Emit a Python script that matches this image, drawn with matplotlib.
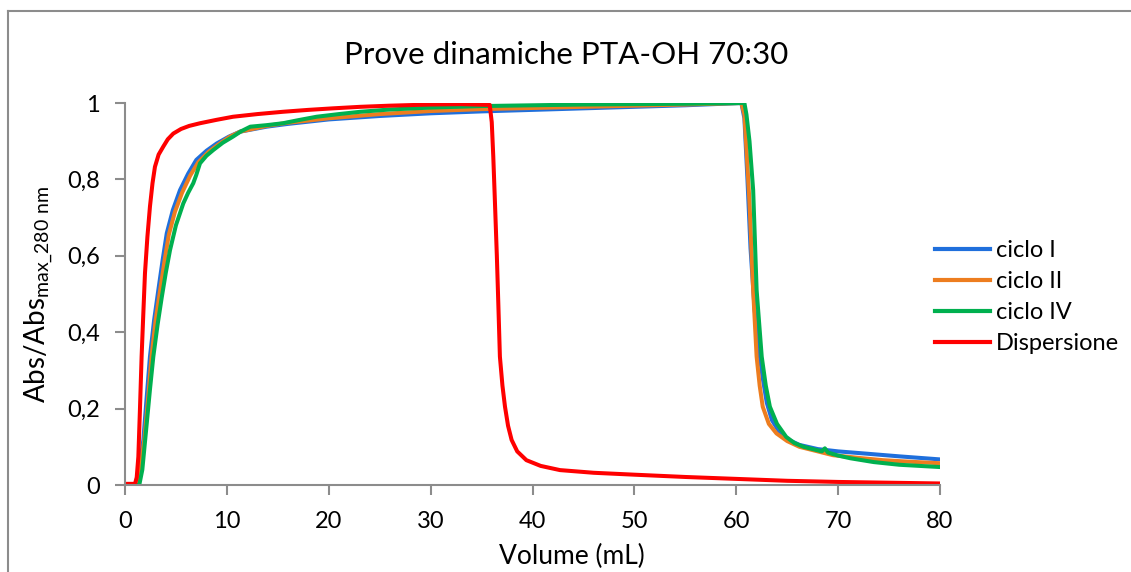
import matplotlib
matplotlib.use("Agg")
import matplotlib.pyplot as plt
from matplotlib.lines import Line2D

plt.rcParams['font.family'] = ['Lato', 'DejaVu Sans']

# ciclo I
vol_c1 = [0, 1.15, 1.4, 1.8, 2.1, 2.45, 2.85, 3.27, 3.7, 4.1, 4.7, 5.4, 6.2, 7.0,
          8.0, 9.0, 10.2, 11.3, 13.9, 15.9, 20, 25, 30, 35, 40, 45, 50, 55, 60.5,
          60.8, 61.1, 61.4, 61.8, 62.2, 62.6, 63.0, 63.5, 64.2, 65.0, 66.2, 68, 70,
          72.8, 76, 80]
abs_c1 = [0, 0, 0.04, 0.118, 0.22, 0.336, 0.43, 0.51, 0.59, 0.659, 0.72, 0.772,
          0.815, 0.851, 0.875, 0.894, 0.912, 0.925, 0.938, 0.945, 0.957, 0.966,
          0.973, 0.978, 0.982, 0.986, 0.99, 0.994, 1.0, 0.96, 0.8, 0.62, 0.46, 0.36,
          0.28, 0.215, 0.17, 0.14, 0.12, 0.105, 0.094, 0.088, 0.082, 0.075, 0.067]

# ciclo II
vol_c2 = [0, 1.25, 1.5, 1.9, 2.25, 2.6, 3.0, 3.45, 3.9, 4.3, 4.9, 5.6, 6.4, 7.2,
          8.2, 9.2, 10.3, 11.3, 13.9, 15.9, 20, 25, 30, 35, 40, 45, 50, 55, 60.5,
          60.8, 61.0, 61.3, 61.66, 62.0, 62.3, 62.6, 63.2, 63.95, 65.0, 66.2, 68,
          69.5, 72, 74.4, 77, 80]
abs_c2 = [0, 0, 0.04, 0.118, 0.22, 0.336, 0.43, 0.51, 0.59, 0.655, 0.715, 0.765,
          0.81, 0.845, 0.872, 0.892, 0.912, 0.925, 0.94, 0.948, 0.96, 0.971,
          0.979, 0.984, 0.987, 0.99, 0.993, 0.996, 1.0, 0.97, 0.88, 0.74, 0.51,
          0.336, 0.26, 0.205, 0.16, 0.135, 0.115, 0.1, 0.088, 0.078, 0.071, 0.065,
          0.061, 0.057]

# ciclo IV
vol_c4 = [0, 1.4, 1.7, 2.13, 2.45, 2.78, 3.2, 3.6, 4.0, 4.42, 5.0, 5.72, 6.2, 6.7,
          7.0, 7.36, 8.0, 8.67, 9.6, 10.6, 11.4, 12.3, 13.9, 15.5, 17, 18.8, 21,
          23.1, 26, 30, 35, 40, 45, 50, 55, 60.8, 61.0, 61.3, 61.66, 62.0, 62.5,
          62.9, 63.3, 64.0, 64.9, 65.7, 66.6, 67.5, 68.4, 68.7, 69.0, 70, 71.2,
          73.5, 76, 78, 80]
abs_c4 = [0, 0, 0.04, 0.16, 0.25, 0.336, 0.42, 0.49, 0.555, 0.615, 0.68, 0.737,
          0.765, 0.79, 0.812, 0.842, 0.862, 0.877, 0.896, 0.912, 0.926, 0.938,
          0.942, 0.947, 0.955, 0.964, 0.971, 0.977, 0.983, 0.988, 0.992, 0.994,
          0.996, 0.997, 0.998, 1.0, 0.97, 0.9, 0.772, 0.51, 0.336, 0.26, 0.205,
          0.16, 0.126, 0.11, 0.1, 0.094, 0.088, 0.096, 0.085, 0.077, 0.07, 0.06,
          0.053, 0.05, 0.047]

# Dispersione
vol_disp = [0, 0.98, 1.15, 1.31, 1.47, 1.63, 1.8, 1.96, 2.2, 2.45, 2.7, 2.94, 3.3,
            3.76, 4.2, 4.74, 5.5, 6.3, 7.36, 9.0, 10.6, 13, 15.5, 18, 20.4, 23.1,
            26, 30, 33, 35.8, 36.0, 36.15, 36.3, 36.5, 36.65, 36.8, 37.05, 37.3,
            37.6, 37.95, 38.5, 39.4, 40.8, 42.7, 46, 50, 55, 60, 65, 70, 75, 80]
abs_disp = [0.003, 0.003, 0.02, 0.074, 0.2, 0.336, 0.45, 0.554, 0.65, 0.729, 0.79,
            0.833, 0.865, 0.886, 0.905, 0.92, 0.932, 0.94, 0.947, 0.956, 0.964,
            0.971, 0.977, 0.982, 0.986, 0.99, 0.993, 0.996, 0.997, 0.995, 0.95,
            0.86, 0.75, 0.6, 0.47, 0.336, 0.26, 0.205, 0.155, 0.118, 0.088, 0.065,
            0.05, 0.039, 0.032, 0.027, 0.021, 0.016, 0.011, 0.008, 0.006, 0.004]

x_ticks = [0, 10, 20, 30, 40, 50, 60, 70, 80]
y_ticks = [0, 0.2, 0.4, 0.6, 0.8, 1.0]
y_tick_labels = ["0", "0,2", "0,4", "0,6", "0,8", "1"]

series = [
    ("ciclo I", vol_c1, abs_c1, "#1f6fdc"),
    ("ciclo II", vol_c2, abs_c2, "#ed7d1f"),
    ("ciclo IV", vol_c4, abs_c4, "#00b04f"),
    ("Dispersione", vol_disp, abs_disp, "#ff0000"),
]

W, H = 1131, 572
fig = plt.figure(figsize=(W / 100, H / 100), dpi=100)
ax = fig.add_axes([125 / W, 1 - 485 / H, (940 - 125) / W, (485 - 103) / H])

for name, xv, yv, col in series:
    ax.plot(xv, yv, color=col, lw=2.9, label=name, solid_joinstyle='round',
            solid_capstyle='round')

ax.set_xlim(0, 80)
ax.set_ylim(0, 1)
ax.set_xticks(x_ticks)
ax.set_yticks(y_ticks)
ax.set_yticklabels(y_tick_labels)

grey = "#8c8c8c"
for s in ["top", "right"]:
    ax.spines[s].set_visible(False)
for s in ["left", "bottom"]:
    ax.spines[s].set_color(grey)
    ax.spines[s].set_linewidth(1.5)
ax.tick_params(axis='both', direction='out', length=7, width=1.5, color=grey,
               labelsize=17, labelcolor='black')
ax.tick_params(axis='x', pad=12)
ax.tick_params(axis='y', pad=11)

ax.set_ylabel(r"Abs/Abs$_{\mathregular{max\_280\ nm}}$", fontsize=20, labelpad=8)
fig.text(572 / W, 1 - 556 / H, "Volume (mL)", ha='center', va='center',
         fontsize=19)
fig.text(566 / W, 1 - 55 / H, "Prove dinamiche PTA-OH 70:30",
         ha='center', va='center', fontsize=22.5)

handles = [Line2D([0], [0], color=c, lw=3) for _, _, _, c in series]
fig.legend(handles, [n for n, _, _, _ in series], loc='center left',
           bbox_to_anchor=(926 / W, 1 - 297 / H), frameon=False, fontsize=17,
           handlelength=2.3, handletextpad=0.25, labelspacing=0.42, borderaxespad=0)

# chart-area border
fig.add_artist(Line2D([7.5 / W, 7.5 / W], [0, 1 - 10.5 / H], color=grey, lw=1.5))
fig.add_artist(Line2D([7.5 / W, 1], [1 - 10.5 / H, 1 - 10.5 / H], color=grey, lw=1.5))

fig.savefig("out.png", dpi=100)
